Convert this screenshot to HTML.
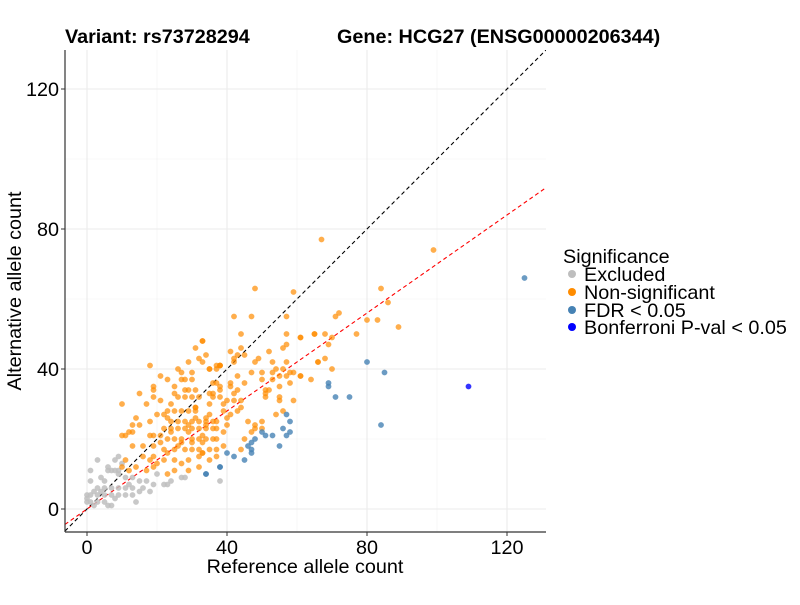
<!DOCTYPE html>
<html><head><meta charset="utf-8"><style>
body{margin:0;background:#fff;font-family:"Liberation Sans",Arial,sans-serif}
svg text{font-family:"Liberation Sans",Arial,sans-serif}
</style></head><body>
<svg id="chart" width="800" height="600" viewBox="0 0 800 600" xmlns="http://www.w3.org/2000/svg">
<rect width="800" height="600" fill="#fff"/>
<g id="grid"></g>
<g id="lines"></g>
<g id="points"></g>
<g id="axes"></g>
<text x="65" y="43" font-size="19.8" font-weight="bold">Variant: rs73728294</text>
<text x="337" y="43" font-size="19.8" font-weight="bold">Gene: HCG27 (ENSG00000206344)</text>
<text x="305" y="573" font-size="19.8" text-anchor="middle">Reference allele count</text>
<text transform="translate(21,291) rotate(-90)" font-size="19.8" text-anchor="middle">Alternative allele count</text>
<g>
<text x="563" y="263" font-size="19.8">Significance</text>
<circle cx="572" cy="274" r="4" fill="#BEBEBE"/>
<text x="584" y="281" font-size="19.8">Excluded</text>
<circle cx="572" cy="292" r="4" fill="#FF8C00"/>
<text x="584" y="299" font-size="19.8">Non-significant</text>
<circle cx="572" cy="310" r="4" fill="#4682B4"/>
<text x="584" y="317" font-size="19.8">FDR &lt; 0.05</text>
<circle cx="572" cy="327" r="4" fill="#0000FF"/>
<text x="584" y="334" font-size="19.8">Bonferroni P-val &lt; 0.05</text>
</g>
</svg>
<script>
const xTicks=[0,40,80,120];
const yTicks=[0,40,80,120];
const minorTicks=[20,60,100];
const excludedX=[38,22,23,27,28,3,9,8,6,7,8,9,9,11,13,15,17,19,1,3,5,7,9,11,13,16,18,0,1,3,5,7,9,11,13,14,0,1,3,5,6,7,2,0,4,6,10,12,2,5,8,15,20,24,1,4];
const excludedY=[8,7,7,9,9,14,15,14,11,11,11,11,10,9,9,8,8,7,8,6,6,6,6,6,6,6,5,4,4,4,4,4,4,4,4,2,2,2,2,2,1,1,1,3,9,12,13,7,5,8,3,5,10,8,11,5,0];
const nonsigX=[67,99,84,86,71,72,80,83,89,61,65,68,70,69,77,66,68,70,61,64,48,59,42,47,57,44,57,65,33,61,44,41,43,42,42,52,56,57,48,49,53,57,66,35,38,37,47,50,53,56,54,58,59,50,53,55,57,61,58,55,51,52,55,55,51,51,59,54,56,50,50,48,48,47,33,31,34,32,33,29,18,37,38,35,30,23,27,30,19,19,19,25,25,29,31,15,36,38,36,38,21,26,28,30,32,10,17,23,25,27,29,31,14,18,20,23,24,26,28,30,32,34,36,37,13,15,13,12,10,11,22,24,26,28,30,32,34,36,37,18,19,21,23,25,27,30,32,34,36,37,13,16,19,22,25,28,30,32,35,37,11,16,18,19,22,25,29,32,35,37,10,12,14,17,19,23,25,29,32,21,24,27,31,33,35,39,40,42,44,45,20,23,27,29,33,35,39,41,43,46,22,26,28,31,34,38,40,43,45,24,27,29,33,36,39,41,44,21,26,31,34,39,42,45,28,33,37,40,43,30,35,38,41,44];
const nonsigY=[77,74,63,59,55,56,54,54,52,49,50,50,49,47,50,42,43,40,38,37,63,62,55,55,55,50,50,50,48,49,46,45,44,43,42,45,46,47,42,43,42,42,42,40,41,40,39,39,39,40,40,39,39,37,37,38,38,38,36,35,34,34,32,31,33,32,31,27,28,25,23,24,23,22,48,46,44,43,42,42,41,41,41,40,39,37,37,37,35,34,32,35,33,34,34,33,36,34,32,32,31,32,32,32,32,30,30,28,28,28,28,28,26,25,27,26,25,25,25,25,25,25,25,25,24,24,22,22,21,21,23,23,23,23,23,23,23,23,23,21,21,21,20,20,20,20,20,20,20,20,18,18,18,17,17,17,17,17,17,17,14,15,14,15,14,14,14,15,14,15,12,11,12,11,12,10,11,11,12,19,22,19,26,21,27,30,26,33,29,36,13,16,13,24,19,30,22,35,28,25,27,18,34,29,24,35,31,38,20,30,39,22,16,33,28,36,17,38,40,29,26,18,31,44,37,16,36,24,34,19,33,41,27,31,30];
const fdrX=[125,80,85,69,69,71,75,84,57,58,56,50,51,53,57,58,55,48,47,46,47,47,45,42,40,38,34,38,34];
const fdrY=[66,42,39,36,35,32,32,24,27,25,23,22,21,21,21,22,18,20,19,18,17,16,14,15,16,12,10,12,10];
const bonfX=[109];
const bonfY=[35];
const xMin=-6.3,xMax=131.1,yMin=-6.6,yMax=131.1;
const L=65,R=546,T=50,B=532;
function sx(v){return 87+3.5*v;}
function sy(v){return 509-3.5*v;}
const NS='http://www.w3.org/2000/svg';
function mk(tag,attrs,parent){const e=document.createElementNS(NS,tag);for(const k in attrs)e.setAttribute(k,attrs[k]);parent.appendChild(e);return e;}
const grid=document.getElementById('grid');
minorTicks.forEach(v=>{
 let a=mk('line',{x1:sx(v),x2:sx(v),y1:T,y2:B,stroke:'#f2f2f2','stroke-width':0.6},grid);
 
 
 let b=mk('line',{x1:L,x2:R,y1:sy(v),y2:sy(v),stroke:'#f2f2f2','stroke-width':0.6},grid);
 
 
});
xTicks.forEach(v=>{
 let a=mk('line',{x1:sx(v),x2:sx(v),y1:T,y2:B,stroke:'#ebebeb','stroke-width':1.1},grid);
 
 
});
yTicks.forEach(v=>{
 let a=mk('line',{x1:L,x2:R,y1:sy(v),y2:sy(v),stroke:'#ebebeb','stroke-width':1.1},grid);
 
 
});
const pts=document.getElementById('points');
function drawSeries(xs,ys,color,name,op){
 const n=Math.min(xs.length,ys.length);
 for(let i=0;i<n;i++){
  const c=mk('circle',{cx:sx(xs[i]),cy:sy(ys[i]),r:2.9,fill:color,'fill-opacity':op},pts);
  
  
 }
}
drawSeries(excludedX,excludedY,'#BEBEBE','point-excluded',0.85);
drawSeries(nonsigX,nonsigY,'#FF8C00','point-nonsignificant',0.7);
drawSeries(fdrX,fdrY,'#4682B4','point-fdr',0.8);
drawSeries(bonfX,bonfY,'#0000FF','point-bonferroni',0.8);
const lines=document.getElementById('lines');
const slope=0.70;
let l1=mk('line',{x1:sx(xMin),y1:sy(xMin),x2:sx(yMax),y2:sy(yMax),stroke:'#000','stroke-width':1.1,'stroke-dasharray':'4,3'},lines);


let l2=mk('line',{x1:sx(xMin),y1:sy(xMin*slope),x2:sx(xMax),y2:sy(xMax*slope),stroke:'#ff0000','stroke-width':1.1,'stroke-dasharray':'4,3'},lines);


lines.setAttribute('clip-path','url(#pc)');
const defs=mk('defs',{},document.getElementById('chart'));
const cp=mk('clipPath',{id:'pc'},defs);
mk('rect',{x:L,y:T,width:R-L,height:B-T},cp);
const ax=document.getElementById('axes');
let ya=mk('line',{x1:L,x2:L,y1:T,y2:B,stroke:'#333','stroke-width':1.2},ax);


let xa=mk('line',{x1:L,x2:R,y1:B,y2:B,stroke:'#333','stroke-width':1.2},ax);


xTicks.forEach(v=>{
 mk('line',{x1:sx(v),x2:sx(v),y1:B,y2:B+4,stroke:'#333'},ax);
 const t=mk('text',{x:sx(v),y:B+22,'font-size':19.8,'text-anchor':'middle',fill:'#000'},ax);
 t.textContent=v;
 
 
});
yTicks.forEach(v=>{
 mk('line',{x1:L-4,x2:L,y1:sy(v),y2:sy(v),stroke:'#333'},ax);
 const t=mk('text',{x:L-6,y:sy(v)+7,'font-size':19.8,'text-anchor':'end',fill:'#000'},ax);
 t.textContent=v;
 
 
});
</script>
</body></html>
